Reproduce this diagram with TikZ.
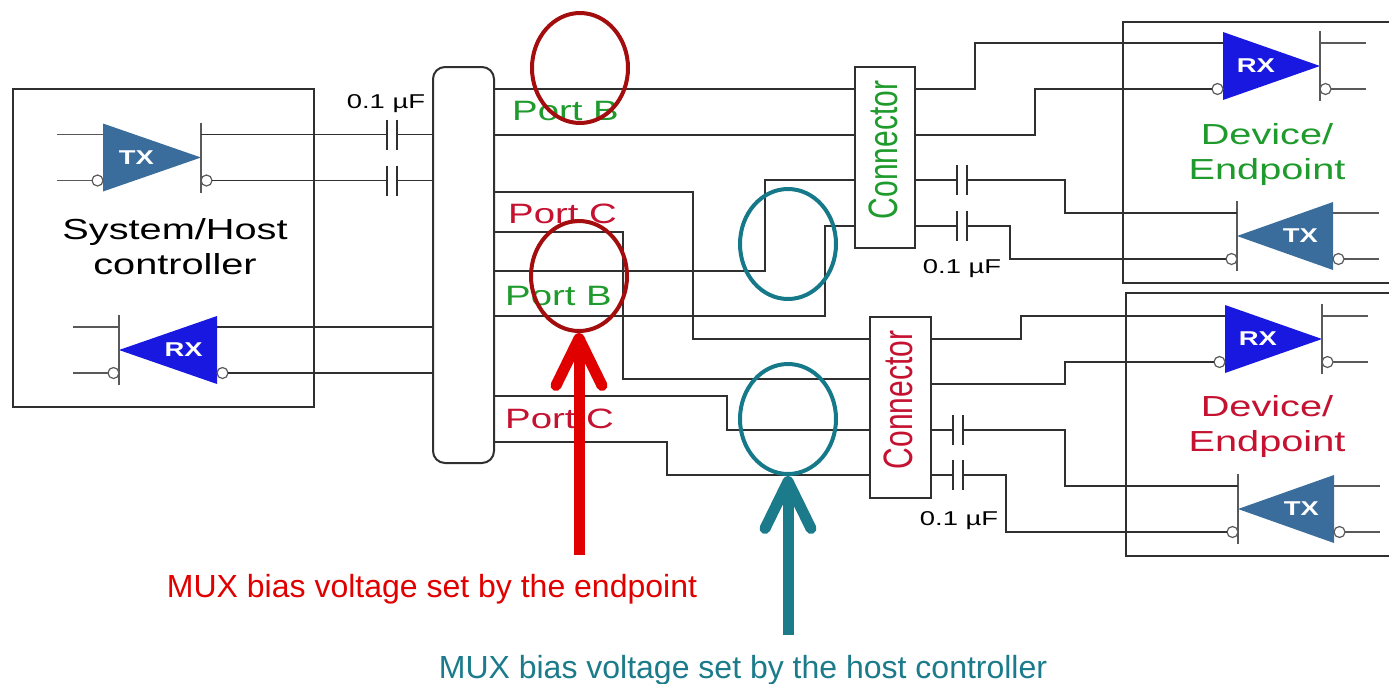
\documentclass[tikz,border=0pt]{standalone}
\usepackage{fontspec}
\setmainfont{Liberation Sans}
\usepackage{graphicx}
\usetikzlibrary{shapes.geometric,arrows.meta}

\definecolor{txblue}{HTML}{3A6D9C}
\definecolor{rxblue}{HTML}{1818E0}
\definecolor{wirecol}{HTML}{303030}
\definecolor{portgreen}{HTML}{1F9A2C}
\definecolor{portred}{HTML}{C41230}
\definecolor{ringred}{HTML}{A30D0D}
\definecolor{ringteal}{HTML}{15798A}
\definecolor{notered}{HTML}{E00000}
\definecolor{noteteal}{HTML}{1C7B8B}

% the labels of the picture are drawn wider than the font
\newcommand{\wide}[1]{\scalebox{1.37}[1]{#1}}

\tikzset{
  wire/.style={draw=wirecol, line width=1.6pt},
  thinwire/.style={draw=black!65, line width=1.2pt},
  box/.style={draw=wirecol, line width=2pt, inner sep=0pt, outer sep=0pt},
  amplabel/.style={text=white, font=\bfseries\fontsize{20}{20}\selectfont, inner sep=0pt},
  portlabel/.style={font=\fontsize{28}{28}\selectfont, inner sep=0pt, anchor=base west},
  uflabel/.style={font=\fontsize{20}{20}\selectfont, inner sep=0pt, anchor=base},
  boxlabel/.style={font=\fontsize{29}{35}\selectfont, align=center, inner sep=0pt},
  conlabel/.style={font=\fontsize{30}{30}\selectfont, rotate=90, inner sep=0pt},
  ring/.style={ellipse, draw, line width=4pt, minimum width=96pt, minimum height=110pt, inner sep=0pt},
  note/.style={font=\fontsize{32}{32}\selectfont, inner sep=0pt, anchor=base},
  bigarrow/.style={line width=11pt, -{Straight Barb[length=47pt, width=46pt, round]}}
}

% buffer: name, base x, apex x, y, fill, text, stub length (<0: left side)
\newcommand{\amp}[7]{%
  \pgfmathsetmacro{\ampL}{min(#2,#3)}
  \pgfmathsetmacro{\ampR}{max(#2,#3)}
  \pgfmathsetmacro{\ampT}{#2+0.34*(#3-#2)}
  \fill[#5] (#2,#4-34) -- (#3,#4) -- (#2,#4+34) -- cycle;
  \draw[thinwire] (#3,#4-35) -- (#3,#4+35);
  \draw[thinwire, fill=white] (\ampL-5.5,#4+23) circle[radius=5.5pt];
  \draw[thinwire, fill=white] (\ampR+5.5,#4+23) circle[radius=5.5pt];
  \node[amplabel] (#1) at (\ampT,#4) {\wide{#6}};
  \coordinate (#1-L1) at (\ampL,#4-23);
  \coordinate (#1-L2) at (\ampL-11,#4+23);
  \coordinate (#1-R1) at (\ampR,#4-23);
  \coordinate (#1-R2) at (\ampR+11,#4+23);
  \ifdim #7pt<0pt
    \draw[thinwire] (#1-L1) -- ++(#7,0);
    \draw[thinwire] (#1-L2) -- ++(#7+11,0);
  \else
    \draw[thinwire] (#1-R1) -- ++(#7,0);
    \draw[thinwire] (#1-R2) -- ++(#7-11,0);
  \fi
}

% capacitor: name, x, y
\newcommand{\capac}[3]{%
  \draw[wire] (#2-5,#3-15) -- (#2-5,#3+15) (#2+5,#3-15) -- (#2+5,#3+15);
  \coordinate (#1-l) at (#2-5,#3);
  \coordinate (#1-r) at (#2+5,#3);
}

\begin{document}
\begin{tikzpicture}[x=1pt, y=-1pt]
    \useasboundingbox (0,0) rectangle (1389,683);
    \clip (0,0) rectangle (1389,683);

    % blocks
    \node[box, minimum width=301pt, minimum height=318pt] (host) at (163.5,248) {};
    \node[box, rounded corners=12pt, minimum width=61pt, minimum height=396pt] (mux) at (463.5,265) {};
    \node[box, minimum width=60pt, minimum height=181pt] (conA) at (885,157.5) {};
    \node[box, minimum width=61pt, minimum height=181pt] (conB) at (900.5,407.5) {};
    \node[box, minimum width=300pt, minimum height=261pt] (devA) at (1273,152.5) {};
    \node[box, minimum width=300pt, minimum height=263pt] (devB) at (1276,424.5) {};

    % buffers
    \amp{htx}{103}{201}{157.5}{txblue}{TX}{-46}
    \amp{hrx}{217}{119}{350}{rxblue}{RX}{-46}
    \amp{rxa}{1223}{1320}{66}{rxblue}{RX}{46}
    \amp{txa}{1333}{1237}{236}{txblue}{TX}{46}
    \amp{rxb}{1225}{1322}{339}{rxblue}{RX}{46}
    \amp{txb}{1334}{1238}{509}{txblue}{TX}{46}

    % coupling capacitors
    \capac{c1}{392}{134.5}
    \capac{c2}{392}{180.5}
    \capac{c3}{962}{180}
    \capac{c4}{962}{226}
    \capac{c5}{958}{430}
    \capac{c6}{958}{475}

    % pins
    \foreach \i/\y in {1/89,2/135,3/192,4/232,5/271,6/316,7/396,8/442}
        {\coordinate (p\i) at (494,\y);}
    \foreach \i/\y in {1/89,2/135,3/180,4/226}
        {\coordinate (al\i) at (855,\y); \coordinate (ar\i) at (915,\y);}
    \foreach \i/\y/\z in {1/339/339,2/379/384,3/430/430,4/475/475}
        {\coordinate (bl\i) at (870,\y); \coordinate (br\i) at (931,\z);}

    % wires
    \foreach \a/\b in {htx-R1/c1-l, htx-R2/c2-l, ar3/c3-l, ar4/c4-l, br3/c5-l, br4/c6-l}
        {\draw[wire] (\a) -- (\b);}
    \foreach \a in {c1-r, c2-r, hrx-R1, hrx-R2}
        {\draw[wire] (\a) -- (\a -| mux.west);}
    \foreach \a/\dx/\b in {p1/0/al1, p2/0/al2, p3/199/bl1, p4/129/bl2,
                           p5/271/al3, p6/331/al4, p7/233/bl3, p8/173/bl4,
                           ar1/60/rxa-L1, ar2/120/rxa-L2, c3-r/98/txa-L1, c4-r/43/txa-L2,
                           br1/90/rxb-L1, br2/134/rxb-L2, c5-r/102/txb-L1, c6-r/43/txb-L2}
        {\draw[wire] (\a) -- ++(\dx,0) |- (\b);}

    % labels
    \node[boxlabel] (hostlbl) at (175,247) {\wide{System/Host}\\\wide{controller}};
    \node[boxlabel, text=portgreen] (devAlbl) at (1267,154) {\wide{Device/}\\\wide{Endpoint}};
    \node[boxlabel, text=portred] (devBlbl) at (1267,426) {\wide{Device/}\\\wide{Endpoint}};
    \node[conlabel, text=portgreen] (conAlbl) at (883,150) {\scalebox{1}[1.37]{Connector}};
    \node[conlabel, text=portred] (conBlbl) at (898,400) {\scalebox{1}[1.37]{Connector}};
    \node[portlabel, text=portgreen] (pb1) at (512,120) {\wide{Port B}};
    \node[portlabel, text=portred] (pc1) at (508,223) {\wide{Port C}};
    \node[portlabel, text=portgreen] (pb2) at (505,305) {\wide{Port B}};
    \node[portlabel, text=portred] (pc2) at (505,428) {\wide{Port C}};
    \node[uflabel] (uf1) at (386,108) {\wide{0.1 µF}};
    \node[uflabel] (uf2) at (962,273) {\wide{0.1 µF}};
    \node[uflabel] (uf3) at (959,525) {\wide{0.1 µF}};

    % bias rings and notes
    \node[ring, draw=ringred] (rb1) at (580,68) {};
    \node[ring, draw=ringred] (rb2) at (579,276) {};
    \node[ring, draw=ringteal] (tc1) at (788,244) {};
    \node[ring, draw=ringteal] (tc2) at (788,419) {};

    \node[note, text=notered] (endnote) at (432,597) {MUX bias voltage set by the endpoint};
    \node[note, text=noteteal] (hostnote) at (743,678) {MUX bias voltage set by the host controller};
    \coordinate (redtail) at (579,555);
    \coordinate (tealtail) at (788,635);
    \draw[bigarrow, draw=notered] (redtail) -- (rb2.south);
    \draw[bigarrow, draw=noteteal] (tealtail) -- (tc2.south);
\end{tikzpicture}
\end{document}
